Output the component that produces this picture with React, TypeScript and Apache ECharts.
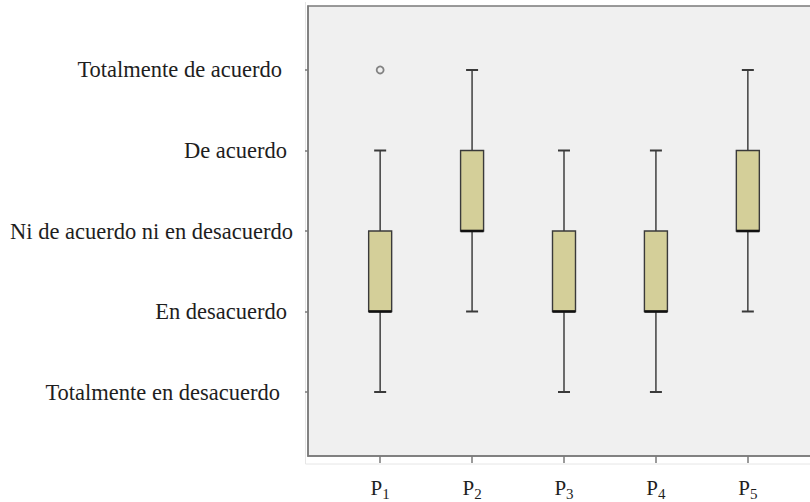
import React, { useEffect, useRef } from "react";
import * as echarts from "echarts";

const categories = ["P1", "P2", "P3", "P4", "P5"];
const subscripts = ["1", "2", "3", "4", "5"];
const levelLabels = [
  "Totalmente en desacuerdo",
  "En desacuerdo",
  "Ni de acuerdo ni en desacuerdo",
  "De acuerdo",
  "Totalmente de acuerdo",
];
// [min, Q1, median, Q3, max] per category
const mins = [1, 2, 1, 1, 2];
const q1s = [2, 3, 2, 2, 3];
const medians = [2, 3, 2, 2, 3];
const q3s = [3, 4, 3, 3, 4];
const maxs = [4, 5, 4, 4, 5];
// outliers: [category position, value]
const outliers = [[1, 5]];

export default function App() {
  const ref = useRef<HTMLDivElement>(null);
  useEffect(() => {
    document.documentElement.style.overflow = "hidden";
    document.body.style.overflow = "hidden";
    if (!ref.current) return;
    const chart = echarts.init(ref.current, null, { renderer: "svg" });
    const boxData = categories.map((_, i) => [i + 1, mins[i], q1s[i], medians[i], q3s[i], maxs[i]]);
    const serif = "'Liberation Serif', 'Times New Roman', serif";
    const labelPad = [13, 6, 0, 6, 11];
    const rich: Record<string, any> = {};
    labelPad.forEach((p, i) => {
      rich["l" + i] = {
        fontFamily: serif,
        fontSize: 22.5,
        color: "#1e1e1e",
        padding: [0, p, 0, 0],
      };
    });
    chart.setOption({
      animation: false,
      backgroundColor: "#ffffff",
      grid: {
        left: 308,
        top: 6,
        width: 512,
        bottom: 46,
        outerBoundsMode: "none",
        containLabel: false,
        show: false,
      },
      graphic: [
        {
          type: "rect",
          shape: { x: 308, y: 6, width: 540, height: 450 },
          style: { fill: "#f0f0f0", stroke: "#7a7a7a", lineWidth: 1.5 },
          silent: true,
          z: -10,
        },
        {
          type: "line",
          shape: { x1: 305.5, y1: 2, x2: 305.5, y2: 464 },
          style: { stroke: "#e6e6e6", lineWidth: 1 },
          silent: true,
        },
        {
          type: "line",
          shape: { x1: 305.5, y1: 464, x2: 840, y2: 464 },
          style: { stroke: "#e6e6e6", lineWidth: 1 },
          silent: true,
        },
      ],
      xAxis: {
        type: "value",
        min: 0.215,
        max: 5.785,
        splitLine: { show: false },
        axisLine: { show: true, lineStyle: { color: "#7a7a7a", width: 1.5 } },
        axisTick: {
          show: true,
          customValues: [1, 2, 3, 4, 5],
          length: 7,
          lineStyle: { color: "#7a7a7a", width: 1.5 },
        },
        axisLabel: {
          customValues: [1, 2, 3, 4, 5],
          margin: 20,
          formatter: (v: number) => {
            const i = Math.round(v) - 1;
            return "{p|" + categories[i].charAt(0) + "}{s|" + subscripts[i] + "}";
          },
          rich: {
            p: { fontFamily: serif, fontSize: 21, color: "#1e1e1e", lineHeight: 24 },
            s: {
              fontFamily: serif,
              fontSize: 15,
              color: "#1e1e1e",
              lineHeight: 16,
              padding: [11, 0, 0, 0],
            },
          },
        },
      },
      yAxis: {
        type: "value",
        min: 0.205,
        max: 5.795,
        splitLine: { show: false },
        axisLine: { show: true, lineStyle: { color: "#7a7a7a", width: 1.5 } },
        axisTick: {
          show: true,
          customValues: [1, 2, 3, 4, 5],
          length: 3,
          lineStyle: { color: "#7a7a7a", width: 1.5 },
        },
        axisLabel: {
          customValues: [1, 2, 3, 4, 5],
          margin: 15,
          formatter: (v: number) => {
            const i = Math.round(v) - 1;
            return "{l" + i + "|" + levelLabels[i] + "}";
          },
          rich,
        },
      },
      series: [
        {
          type: "custom",
          data: boxData,
          encode: { x: 0, y: [1, 2, 3, 4, 5] },
          renderItem: (params: any, api: any) => {
            const x = api.value(0);
            const pMin = api.coord([x, api.value(1)]);
            const pQ1 = api.coord([x, api.value(2)]);
            const pMed = api.coord([x, api.value(3)]);
            const pQ3 = api.coord([x, api.value(4)]);
            const pMax = api.coord([x, api.value(5)]);
            const cx = pMin[0];
            const halfBox = 11.5;
            const halfCap = 6;
            return {
              type: "group",
              children: [
                {
                  type: "line",
                  shape: { x1: cx, y1: pMin[1], x2: cx, y2: pQ1[1] },
                  style: { stroke: "#4a4a4a", lineWidth: 1.6 },
                },
                {
                  type: "line",
                  shape: { x1: cx, y1: pQ3[1], x2: cx, y2: pMax[1] },
                  style: { stroke: "#4a4a4a", lineWidth: 1.6 },
                },
                {
                  type: "line",
                  shape: { x1: cx - halfCap, y1: pMin[1], x2: cx + halfCap, y2: pMin[1] },
                  style: { stroke: "#3a3a3a", lineWidth: 2 },
                },
                {
                  type: "line",
                  shape: { x1: cx - halfCap, y1: pMax[1], x2: cx + halfCap, y2: pMax[1] },
                  style: { stroke: "#3a3a3a", lineWidth: 2 },
                },
                {
                  type: "rect",
                  shape: {
                    x: cx - halfBox,
                    y: pQ3[1],
                    width: halfBox * 2,
                    height: pQ1[1] - pQ3[1],
                  },
                  style: { fill: "#d4cf99", stroke: "#3a3a3a", lineWidth: 1.4 },
                },
                {
                  type: "line",
                  shape: { x1: cx - halfBox, y1: pMed[1], x2: cx + halfBox, y2: pMed[1] },
                  style: { stroke: "#111111", lineWidth: 2.6 },
                },
              ],
            };
          },
          z: 2,
        },
        {
          type: "scatter",
          data: outliers,
          symbol: "circle",
          symbolSize: 7,
          itemStyle: { color: "#f0f0f0", borderColor: "#666666", borderWidth: 1.8 },
          z: 3,
        },
      ],
    });
    return () => chart.dispose();
  }, []);
  return (
    <div
      style={{
        position: "absolute",
        left: 0,
        top: 0,
        width: 810,
        height: 502,
        overflow: "hidden",
      }}
    >
      <div ref={ref} style={{ width: 860, height: 502 }} />
    </div>
  );
}
